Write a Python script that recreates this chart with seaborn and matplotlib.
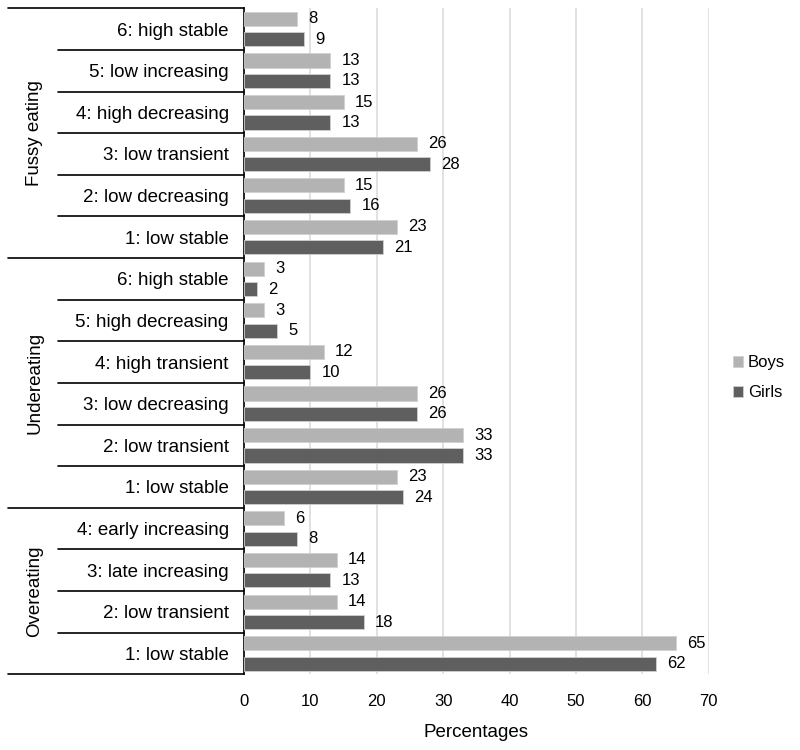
import pandas as pd
import seaborn as sns
import matplotlib.pyplot as plt
import matplotlib.transforms as mtransforms
from matplotlib.lines import Line2D

groups = ["Fussy eating"] * 6 + ["Undereating"] * 6 + ["Overeating"] * 4
classes = ["6: high stable", "5: low increasing", "4: high decreasing",
           "3: low transient", "2: low decreasing", "1: low stable",
           "6: high stable", "5: high decreasing", "4: high transient",
           "3: low decreasing", "2: low transient", "1: low stable",
           "4: early increasing", "3: late increasing", "2: low transient",
           "1: low stable"]
boys = [8, 13, 15, 26, 15, 23, 3, 3, 12, 26, 33, 23, 6, 14, 14, 65]
girls = [9, 13, 13, 28, 16, 21, 2, 5, 10, 26, 33, 24, 8, 13, 18, 62]

sns.set_style("white")
plt.rcParams['font.family'] = ['Liberation Sans', 'DejaVu Sans']
plt.rcParams['text.color'] = 'black'
plt.rcParams['axes.labelcolor'] = 'black'
plt.rcParams['xtick.color'] = 'black'
plt.rcParams['ytick.color'] = 'black'

keys = [f"{g}|{c}" for g, c in zip(groups, classes)]
df = pd.DataFrame({
    "key": keys * 2,
    "pct": boys + girls,
    "sex": ["Boys"] * len(keys) + ["Girls"] * len(keys),
})

fig = plt.figure(figsize=(8, 7.5), dpi=100)
ax = fig.add_axes([0.305, 0.101, 0.581, 0.888])

sns.barplot(data=df, x="pct", y="key", hue="sex", order=keys,
            palette={"Boys": "#b3b3b3", "Girls": "#5f5f5f"},
            width=0.98, gap=0.31, edgecolor="#d0d0d0", linewidth=0.6,
            orient="h", ax=ax, zorder=3)

for cont in ax.containers:
    ax.bar_label(cont, padding=8, fontsize=12, color="black")

ax.set_xlim(0, 70)
ax.set_xticks(range(0, 71, 10))
ax.set_ylim(len(keys) - 0.5, -0.5)
ax.xaxis.grid(True, color="#dcdcdc", linewidth=1.2, zorder=0)
ax.set_axisbelow(True)
for s in ["top", "right", "bottom"]:
    ax.spines[s].set_visible(False)
ax.spines["left"].set_color("black")
ax.spines["left"].set_linewidth(1.2)
ax.tick_params(axis="x", labelsize=12, length=0, pad=14)
ax.tick_params(axis="y", labelsize=13.5, length=0, pad=11)
ax.set_yticks(range(len(keys)))
ax.set_yticklabels(classes)
ax.set_xlabel("Percentages", fontsize=13.5, labelpad=11)
ax.set_ylabel("")

# table lines on the left
trans = mtransforms.blended_transform_factory(ax.transAxes, ax.transData)
x_outer, x_inner = -0.508, -0.40
ax.add_line(Line2D([x_outer, 0], [-0.5, -0.5], transform=trans, color="black",
                   lw=1.2, clip_on=False))
prev = groups[0]
start = 0
for i in range(1, len(keys) + 1):
    if i == len(keys) or groups[i] != prev:
        ax.add_line(Line2D([x_outer, 0], [i - 0.5, i - 0.5], transform=trans,
                           color="black", lw=1.2, clip_on=False))
        ax.text(-0.45, (start + i - 1) / 2, prev, transform=trans, rotation=90,
                ha="center", va="center", fontsize=13.5)
        if i < len(keys):
            prev = groups[i]
            start = i
    else:
        ax.add_line(Line2D([x_inner, 0], [i - 0.5, i - 0.5], transform=trans,
                           color="black", lw=1.2, clip_on=False))

ax.legend(title=None, frameon=False, loc="center left",
          bbox_to_anchor=(1.02, 0.445), fontsize=12, handlelength=0.6,
          handleheight=0.6, handletextpad=0.3, labelspacing=0.9)

fig.savefig("out.png", dpi=100)
